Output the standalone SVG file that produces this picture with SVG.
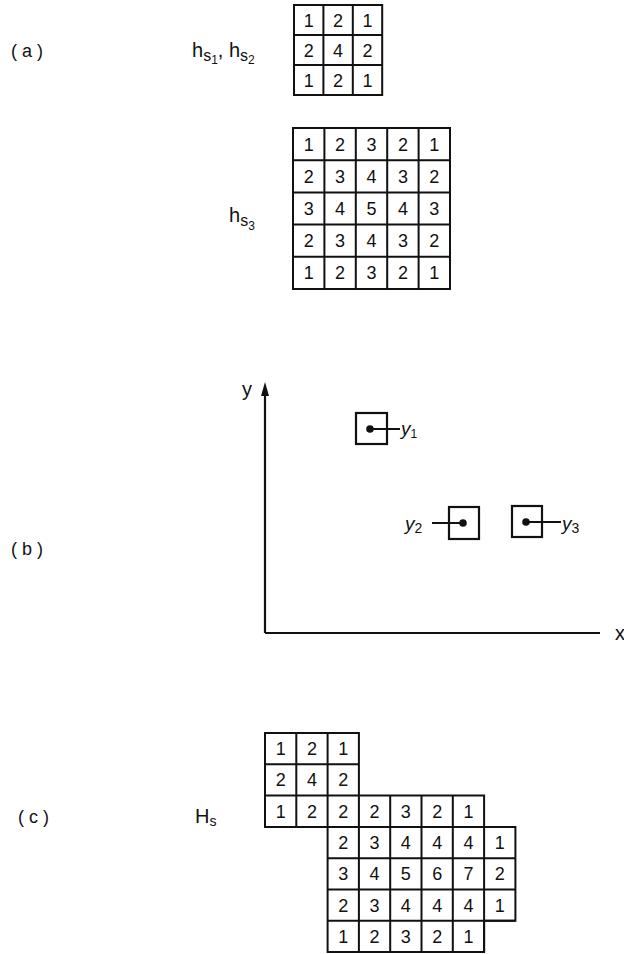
<svg xmlns="http://www.w3.org/2000/svg" width="624" height="954" viewBox="0 0 624 954">
<style>
.bg{fill:#fff}
.cell{fill:none;stroke:#111;stroke-width:2}
.num{font-family:"Liberation Sans","DejaVu Sans",sans-serif;font-size:18px;fill:#111;text-anchor:middle}
.lab{font-family:"Liberation Sans","DejaVu Sans",sans-serif;font-size:18px;fill:#111;letter-spacing:5px}
.h{font-family:"Liberation Sans","DejaVu Sans",sans-serif;font-size:20px;fill:#111}
.yl{font-family:"Liberation Sans","DejaVu Sans",sans-serif;font-size:19px;font-style:italic;fill:#111}
.ax{stroke:#111;stroke-width:2.2;fill:none}
.box{fill:none;stroke:#111;stroke-width:2.2}
.lead{stroke:#111;stroke-width:1.8}
.dot{fill:#111}
</style>
<rect class="bg" x="0" y="0" width="624" height="954"/>

<!-- panel labels -->
<g id="labels">
<text class="lab" x="11" y="57">(a)</text>
<text class="lab" x="11" y="555">(b)</text>
<text class="lab" x="18" y="823">(c)</text>
</g>

<!-- (a) hs1, hs2 -->
<g id="label-hs12">
<text class="h" x="192" y="57">h<tspan font-size="16" dy="4">s</tspan><tspan font-size="12" dy="3">1</tspan><tspan dy="-7">, h</tspan><tspan font-size="16" dy="4">s</tspan><tspan font-size="12" dy="3">2</tspan></text>
</g>
<g id="grid-hs12">
<rect class="cell" x="294" y="5" width="88.2" height="90"/>
<path class="cell" d="M323.4 5V95M352.8 5V95M294 35H382.2M294 65H382.2"/>
<text class="num" x="308.7" y="26.5">1</text><text class="num" x="338.1" y="26.5">2</text><text class="num" x="367.5" y="26.5">1</text>
<text class="num" x="308.7" y="56.5">2</text><text class="num" x="338.1" y="56.5">4</text><text class="num" x="367.5" y="56.5">2</text>
<text class="num" x="308.7" y="86.5">1</text><text class="num" x="338.1" y="86.5">2</text><text class="num" x="367.5" y="86.5">1</text>
</g>

<!-- (a) hs3 -->
<g id="label-hs3">
<text class="h" x="229" y="222">h<tspan font-size="16" dy="4">s</tspan><tspan font-size="12" dy="4">3</tspan></text>
</g>
<g id="grid-hs3">
<rect class="cell" x="293" y="128" width="157" height="161"/>
<path class="cell" d="M324.4 128V289M355.8 128V289M387.2 128V289M418.6 128V289M293 160.2H450M293 192.4H450M293 224.6H450M293 256.8H450"/>
<text class="num" x="308.7" y="150.6">1</text><text class="num" x="340.1" y="150.6">2</text><text class="num" x="371.5" y="150.6">3</text><text class="num" x="402.9" y="150.6">2</text><text class="num" x="434.3" y="150.6">1</text>
<text class="num" x="308.7" y="182.8">2</text><text class="num" x="340.1" y="182.8">3</text><text class="num" x="371.5" y="182.8">4</text><text class="num" x="402.9" y="182.8">3</text><text class="num" x="434.3" y="182.8">2</text>
<text class="num" x="308.7" y="215">3</text><text class="num" x="340.1" y="215">4</text><text class="num" x="371.5" y="215">5</text><text class="num" x="402.9" y="215">4</text><text class="num" x="434.3" y="215">3</text>
<text class="num" x="308.7" y="247.2">2</text><text class="num" x="340.1" y="247.2">3</text><text class="num" x="371.5" y="247.2">4</text><text class="num" x="402.9" y="247.2">3</text><text class="num" x="434.3" y="247.2">2</text>
<text class="num" x="308.7" y="279.4">1</text><text class="num" x="340.1" y="279.4">2</text><text class="num" x="371.5" y="279.4">3</text><text class="num" x="402.9" y="279.4">2</text><text class="num" x="434.3" y="279.4">1</text>
</g>

<!-- (b) axes -->
<g id="axes">
<path class="ax" d="M265 633V392M265 633H600"/>
<path d="M265 382L261 396L269 396Z" fill="#111"/>
<text class="h" x="242" y="396" font-size="17">y</text>
<text class="h" x="615" y="640" font-size="16">x</text>
</g>
<g id="point-y1">
<rect class="box" x="356" y="413" width="31" height="31"/>
<circle class="dot" cx="370" cy="429" r="3.8"/>
</g>
<g id="point-y2">
<rect class="box" x="449" y="507" width="30" height="32"/>
<circle class="dot" cx="463" cy="523" r="3.8"/>
</g>
<g id="point-y3">
<rect class="box" x="512" y="506" width="30" height="31"/>
<circle class="dot" cx="526" cy="522" r="3.8"/>
</g>
<g id="connectors">
<path class="lead" d="M370 429H400M432 523H463M526 522H561"/>
</g>
<g id="point-labels">
<text class="yl" x="401" y="435">y<tspan font-size="12" dy="3" font-style="normal">1</tspan></text>
<text class="yl" x="405" y="530">y<tspan font-size="14" dy="3" font-style="normal">2</tspan></text>
<text class="yl" x="562" y="530">y<tspan font-size="14" dy="3" font-style="normal">3</tspan></text>
</g>

<!-- (c) Hs -->
<g id="label-Hs">
<text class="h" x="195" y="823" font-size="18">H<tspan font-size="14" dy="3">s</tspan></text>
</g>
<g id="grid-Hs">
<path class="cell" d="M265 733H358.9V795.6H484.1V826.9H515.4V920.8H484.1V952.1H327.6V826.9H265Z"/>
<path class="cell" d="M296.3 733V826.9M327.6 733V826.9M265 764.3H358.9M265 795.6H358.9M358.9 795.6V952.1M390.2 795.6V952.1M421.5 795.6V952.1M452.8 795.6V952.1M484.1 826.9V952.1M327.6 826.9H515.4M327.6 858.2H515.4M327.6 889.5H515.4M327.6 920.8H515.4"/>
<text class="num" x="280.65" y="755">1</text><text class="num" x="311.95" y="755">2</text><text class="num" x="343.25" y="755">1</text>
<text class="num" x="280.65" y="786.3">2</text><text class="num" x="311.95" y="786.3">4</text><text class="num" x="343.25" y="786.3">2</text>
<text class="num" x="280.65" y="817.6">1</text><text class="num" x="311.95" y="817.6">2</text><text class="num" x="343.25" y="817.6">2</text><text class="num" x="374.55" y="817.6">2</text><text class="num" x="405.85" y="817.6">3</text><text class="num" x="437.15" y="817.6">2</text><text class="num" x="468.45" y="817.6">1</text>
<text class="num" x="343.25" y="848.9">2</text><text class="num" x="374.55" y="848.9">3</text><text class="num" x="405.85" y="848.9">4</text><text class="num" x="437.15" y="848.9">4</text><text class="num" x="468.45" y="848.9">4</text><text class="num" x="499.75" y="848.9">1</text>
<text class="num" x="343.25" y="880.2">3</text><text class="num" x="374.55" y="880.2">4</text><text class="num" x="405.85" y="880.2">5</text><text class="num" x="437.15" y="880.2">6</text><text class="num" x="468.45" y="880.2">7</text><text class="num" x="499.75" y="880.2">2</text>
<text class="num" x="343.25" y="911.5">2</text><text class="num" x="374.55" y="911.5">3</text><text class="num" x="405.85" y="911.5">4</text><text class="num" x="437.15" y="911.5">4</text><text class="num" x="468.45" y="911.5">4</text><text class="num" x="499.75" y="911.5">1</text>
<text class="num" x="343.25" y="942.8">1</text><text class="num" x="374.55" y="942.8">2</text><text class="num" x="405.85" y="942.8">3</text><text class="num" x="437.15" y="942.8">2</text><text class="num" x="468.45" y="942.8">1</text>
</g>
</svg>
